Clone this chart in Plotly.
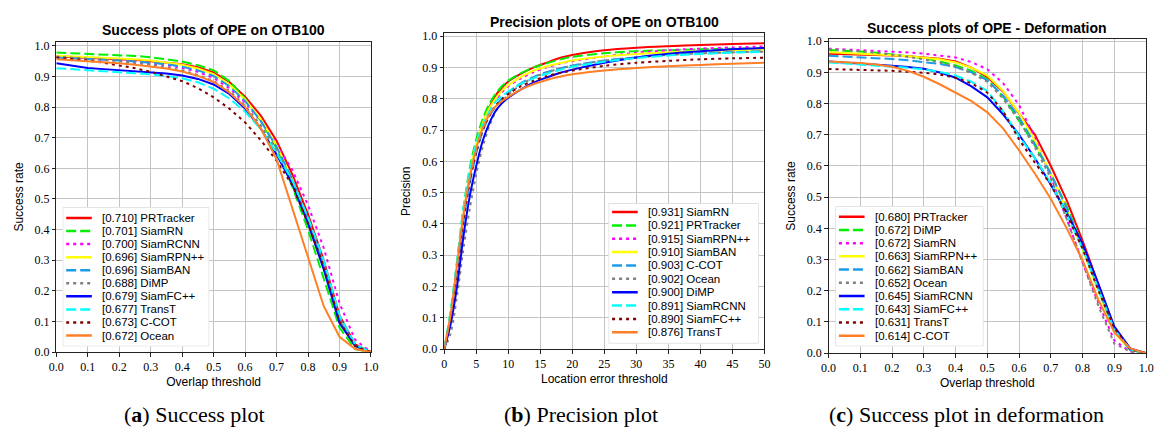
import plotly.graph_objects as go

W, H = 1164, 434

# ---------------- data ----------------
THRESH = [0.0, 0.05, 0.1, 0.15, 0.2, 0.25, 0.3, 0.35, 0.4, 0.45, 0.5,
          0.55, 0.6, 0.65, 0.7, 0.75, 0.8, 0.85, 0.9, 0.95, 1.0]
LOC = [0, 1, 2, 3, 4, 5, 6, 7, 8, 9, 10, 12, 14, 16, 18, 20, 25, 30, 35, 40, 45, 50]

# (a) Success plots of OPE on OTB100
A_NAMES = ["PRTracker", "SiamRN", "SiamRCNN", "SiamRPN++", "SiamBAN",
           "DiMP", "SiamFC++", "TransT", "C-COT", "Ocean"]
A_AUC = [0.710, 0.701, 0.700, 0.696, 0.696, 0.688, 0.679, 0.677, 0.673, 0.672]
A_PRTRACKER = [0.965, 0.963, 0.961, 0.959, 0.957, 0.954, 0.950, 0.946, 0.940, 0.930, 0.913,
               0.882, 0.834, 0.772, 0.690, 0.580, 0.450, 0.300, 0.120, 0.025, 0.0]
A_SIAMRN = [0.978, 0.976, 0.974, 0.972, 0.970, 0.967, 0.963, 0.957, 0.949, 0.937, 0.920,
            0.885, 0.828, 0.755, 0.665, 0.540, 0.400, 0.240, 0.080, 0.010, 0.0]
A_SIAMRCNN = [0.962, 0.960, 0.958, 0.955, 0.952, 0.948, 0.943, 0.937, 0.928, 0.915, 0.895,
              0.862, 0.815, 0.755, 0.680, 0.595, 0.480, 0.340, 0.160, 0.040, 0.0]
A_SIAMRPNPP = [0.968, 0.966, 0.964, 0.962, 0.959, 0.956, 0.952, 0.946, 0.938, 0.926, 0.908,
               0.874, 0.825, 0.760, 0.675, 0.565, 0.425, 0.280, 0.100, 0.020, 0.0]
A_SIAMBAN = [0.962, 0.960, 0.958, 0.955, 0.952, 0.949, 0.945, 0.940, 0.932, 0.920, 0.902,
             0.868, 0.820, 0.755, 0.670, 0.565, 0.430, 0.290, 0.110, 0.020, 0.0]
A_DIMP = [0.965, 0.962, 0.958, 0.954, 0.950, 0.945, 0.938, 0.930, 0.920, 0.905, 0.885,
          0.853, 0.805, 0.740, 0.660, 0.560, 0.430, 0.290, 0.110, 0.020, 0.0]
A_SIAMFCPP = [0.943, 0.935, 0.928, 0.924, 0.920, 0.917, 0.914, 0.910, 0.903, 0.892, 0.874,
              0.843, 0.795, 0.730, 0.645, 0.550, 0.420, 0.270, 0.095, 0.020, 0.0]
A_TRANST = [0.927, 0.923, 0.920, 0.917, 0.914, 0.911, 0.907, 0.902, 0.894, 0.881, 0.860,
            0.828, 0.785, 0.728, 0.650, 0.560, 0.440, 0.300, 0.120, 0.025, 0.0]
A_CCOT = [0.962, 0.958, 0.952, 0.945, 0.937, 0.927, 0.915, 0.900, 0.885, 0.862, 0.832,
          0.795, 0.750, 0.692, 0.625, 0.545, 0.420, 0.280, 0.100, 0.020, 0.0]
A_OCEAN = [0.956, 0.953, 0.950, 0.947, 0.943, 0.938, 0.933, 0.926, 0.916, 0.902, 0.882,
           0.848, 0.800, 0.730, 0.630, 0.470, 0.310, 0.150, 0.050, 0.010, 0.0]

# (b) Precision plots of OPE on OTB100
B_NAMES = ["SiamRN", "PRTracker", "SiamRPN++", "SiamBAN", "C-COT",
           "Ocean", "DiMP", "SiamRCNN", "SiamFC++", "TransT"]
B_PREC = [0.931, 0.921, 0.915, 0.910, 0.903, 0.902, 0.900, 0.891, 0.890, 0.876]
B_SIAMRN = [0, 0.10, 0.25, 0.42, 0.55, 0.65, 0.72, 0.77, 0.81, 0.835, 0.855,
            0.88, 0.90, 0.915, 0.93, 0.94, 0.955, 0.963, 0.968, 0.972, 0.975, 0.977]
B_PRTRACKER = [0, 0.12, 0.28, 0.45, 0.58, 0.67, 0.735, 0.782, 0.815, 0.84, 0.858,
               0.882, 0.90, 0.913, 0.925, 0.934, 0.945, 0.952, 0.955, 0.958, 0.96, 0.961]
B_SIAMRPNPP = [0, 0.10, 0.25, 0.41, 0.54, 0.64, 0.71, 0.76, 0.795, 0.82, 0.84,
               0.865, 0.885, 0.90, 0.912, 0.92, 0.935, 0.947, 0.955, 0.96, 0.964, 0.967]
B_SIAMBAN = [0, 0.10, 0.26, 0.43, 0.56, 0.655, 0.72, 0.768, 0.80, 0.825, 0.843,
             0.87, 0.89, 0.903, 0.913, 0.922, 0.935, 0.943, 0.948, 0.952, 0.955, 0.957]
B_CCOT = [0, 0.10, 0.25, 0.41, 0.53, 0.625, 0.695, 0.742, 0.775, 0.80, 0.82,
          0.85, 0.87, 0.885, 0.897, 0.906, 0.922, 0.932, 0.94, 0.945, 0.949, 0.952]
B_OCEAN = [0, 0.05, 0.17, 0.32, 0.45, 0.56, 0.645, 0.71, 0.757, 0.79, 0.813,
           0.845, 0.868, 0.884, 0.896, 0.905, 0.922, 0.932, 0.94, 0.945, 0.948, 0.95]
B_DIMP = [0, 0.08, 0.20, 0.36, 0.49, 0.585, 0.665, 0.72, 0.76, 0.785, 0.803,
          0.83, 0.852, 0.868, 0.882, 0.893, 0.915, 0.932, 0.944, 0.952, 0.958, 0.962]
B_SIAMRCNN = [0, 0.12, 0.28, 0.45, 0.57, 0.655, 0.715, 0.758, 0.79, 0.808, 0.823,
              0.848, 0.866, 0.88, 0.892, 0.902, 0.918, 0.93, 0.938, 0.943, 0.947, 0.95]
B_SIAMFCPP = [0, 0.10, 0.25, 0.41, 0.54, 0.63, 0.70, 0.745, 0.777, 0.798, 0.815,
              0.84, 0.858, 0.872, 0.882, 0.890, 0.905, 0.915, 0.921, 0.926, 0.929, 0.931]
B_TRANST = [0, 0.11, 0.27, 0.43, 0.55, 0.64, 0.705, 0.748, 0.775, 0.792, 0.806,
            0.83, 0.847, 0.86, 0.87, 0.878, 0.89, 0.898, 0.904, 0.908, 0.912, 0.915]

# (c) Success plots of OPE - Deformation
C_NAMES = ["PRTracker", "DiMP", "SiamRN", "SiamRPN++", "SiamBAN",
           "Ocean", "SiamRCNN", "SiamFC++", "TransT", "C-COT"]
C_AUC = [0.680, 0.672, 0.672, 0.663, 0.662, 0.652, 0.645, 0.643, 0.631, 0.614]
C_PRTRACKER = [0.960, 0.959, 0.958, 0.956, 0.954, 0.952, 0.949, 0.944, 0.935, 0.915, 0.885,
               0.838, 0.768, 0.700, 0.600, 0.490, 0.360, 0.220, 0.080, 0.012, 0.0]
C_DIMP = [0.972, 0.970, 0.967, 0.963, 0.958, 0.952, 0.945, 0.935, 0.922, 0.905, 0.878,
          0.822, 0.745, 0.665, 0.575, 0.470, 0.345, 0.210, 0.075, 0.010, 0.0]
C_SIAMRN = [0.976, 0.974, 0.972, 0.970, 0.967, 0.964, 0.960, 0.955, 0.948, 0.933, 0.910,
            0.865, 0.795, 0.690, 0.565, 0.430, 0.290, 0.160, 0.040, 0.005, 0.0]
C_SIAMRPNPP = [0.965, 0.963, 0.961, 0.958, 0.955, 0.952, 0.948, 0.942, 0.932, 0.915, 0.890,
               0.840, 0.770, 0.680, 0.575, 0.460, 0.330, 0.200, 0.065, 0.010, 0.0]
C_SIAMBAN = [0.953, 0.951, 0.949, 0.946, 0.943, 0.939, 0.934, 0.927, 0.917, 0.900, 0.875,
             0.825, 0.755, 0.670, 0.575, 0.465, 0.340, 0.205, 0.072, 0.010, 0.0]
C_OCEAN = [0.975, 0.972, 0.968, 0.963, 0.957, 0.950, 0.942, 0.932, 0.918, 0.898, 0.870,
           0.815, 0.745, 0.660, 0.560, 0.430, 0.290, 0.150, 0.030, 0.005, 0.0]
C_SIAMRCNN = [0.935, 0.932, 0.929, 0.925, 0.921, 0.917, 0.912, 0.900, 0.883, 0.855, 0.820,
              0.765, 0.700, 0.625, 0.540, 0.450, 0.350, 0.220, 0.085, 0.015, 0.0]
C_SIAMFCPP = [0.932, 0.929, 0.926, 0.923, 0.919, 0.915, 0.910, 0.902, 0.890, 0.870, 0.840,
              0.775, 0.695, 0.625, 0.545, 0.445, 0.335, 0.205, 0.075, 0.012, 0.0]
C_TRANST = [0.911, 0.910, 0.909, 0.907, 0.905, 0.902, 0.899, 0.893, 0.883, 0.865, 0.835,
            0.775, 0.685, 0.610, 0.540, 0.445, 0.335, 0.200, 0.080, 0.012, 0.0]
C_CCOT = [0.935, 0.933, 0.930, 0.925, 0.918, 0.905, 0.886, 0.862, 0.835, 0.808, 0.772,
          0.720, 0.650, 0.575, 0.494, 0.400, 0.297, 0.170, 0.066, 0.015, 0.0]

A_SERIES = [A_PRTRACKER, A_SIAMRN, A_SIAMRCNN, A_SIAMRPNPP, A_SIAMBAN,
            A_DIMP, A_SIAMFCPP, A_TRANST, A_CCOT, A_OCEAN]
B_SERIES = [B_SIAMRN, B_PRTRACKER, B_SIAMRPNPP, B_SIAMBAN, B_CCOT,
            B_OCEAN, B_DIMP, B_SIAMRCNN, B_SIAMFCPP, B_TRANST]
C_SERIES = [C_PRTRACKER, C_DIMP, C_SIAMRN, C_SIAMRPNPP, C_SIAMBAN,
            C_OCEAN, C_SIAMRCNN, C_SIAMFCPP, C_TRANST, C_CCOT]

X_TICKS_SUCCESS = [0.0, 0.1, 0.2, 0.3, 0.4, 0.5, 0.6, 0.7, 0.8, 0.9, 1.0]
X_TICKS_PREC = [0, 5, 10, 15, 20, 25, 30, 35, 40, 45, 50]
Y_TICKS = [0.0, 0.1, 0.2, 0.3, 0.4, 0.5, 0.6, 0.7, 0.8, 0.9, 1.0]

# ---------------- styles ----------------
COLORS = ["#ff0000", "#00f000", "#ff00ff", "#ffff00", "#1e9be8",
          "#808080", "#0000ff", "#00ffff", "#800000", "#ff7f27"]
DASHES = ["solid", "10px,4px", "3px,4px", "solid", "10px,4px",
          "3px,4px", "solid", "10px,4px", "3px,4px", "solid"]
LW = 2.0

TICK_FONT = dict(family="Liberation Serif", size=12, color="black")
LABEL_FONT = dict(family="Liberation Sans", size=12, color="black")
TITLE_FONT = dict(family="Liberation Sans", size=14, color="black")
LEG_FONT = dict(family="Liberation Sans", size=11.5, color="black")
CAP_FONT = dict(family="Liberation Serif", size=22, color="black")


def px(x):
    return x / W


def py(y):
    return 1 - y / H


# panel frames in pixels: left, right, top, bottom, ymax
PANELS = [
    dict(l=49, r=368, t=37.7, b=357, ymax=1.0137, ystand=8),
    dict(l=442.3, r=767, t=29, b=354, ymax=1.0093, ystand=9),
    dict(l=832, r=1154, t=35, b=358, ymax=1.007, ystand=8),
]
LEGBOX = [
    dict(l=55.5, r=204, t=208, b=351, first=11.0, step=13.44),
    dict(l=609, r=761, t=204, b=348, first=8.9, step=13.75),
    dict(l=839, r=989, t=207, b=351, first=10.7, step=13.6),
]

fig = go.Figure()
layout = dict(width=W, height=H, margin=dict(l=0, r=0, t=0, b=0),
              paper_bgcolor="white", plot_bgcolor="white", showlegend=False,
              annotations=[], shapes=[])

panel_specs = [
    (THRESH, A_SERIES, A_NAMES, A_AUC, "linear"),
    (LOC, B_SERIES, B_NAMES, B_PREC, "spline"),
    (THRESH, C_SERIES, C_NAMES, C_AUC, "linear"),
]
titles = ["Success plots of OPE on OTB100", "Precision plots of OPE on OTB100",
          "Success plots of OPE - Deformation"]
title_pos = [(208, 26), (604.5, 17), (992.5, 23.3)]
xtitles = ["Overlap threshold", "Location error threshold", "Overlap threshold"]
ytitles = ["Success rate", "Precision", "Success rate"]
captions = ["(<b>a</b>) Success plot", "(<b>b</b>) Precision plot",
            "(<b>c</b>) Success plot in deformation"]
cap_pos = [(189, 421.5), (580.5, 421.5), (972, 421.5)]

for k in range(3):
    xs, series, names, scores, shape = panel_specs[k]
    P = PANELS[k]
    xa = "x" if k == 0 else f"x{k+1}"
    ya = "y" if k == 0 else f"y{k+1}"
    for i, vals in enumerate(series):
        fig.add_trace(go.Scatter(
            x=xs, y=vals, mode="lines", xaxis=xa, yaxis=ya,
            line=dict(color=COLORS[i], width=LW, dash=DASHES[i], shape=shape,
                      smoothing=0.8 if shape == "spline" else None),
            name=f"[{scores[i]:.3f}] {names[i]}", hoverinfo="skip"))
    axkey = "xaxis" if k == 0 else f"xaxis{k+1}"
    aykey = "yaxis" if k == 0 else f"yaxis{k+1}"
    if k == 1:
        xr = [0, 50]
        xt = X_TICKS_PREC
        xtext = [str(v) for v in xt]
    else:
        xr = [0, 1]
        xt = X_TICKS_SUCCESS
        xtext = [f"{v:.1f}" for v in xt]
    common = dict(showgrid=True, gridcolor="#c4c4c4", gridwidth=1,
                  showline=True, linecolor="#222222", linewidth=1, mirror=True,
                  ticks="outside", ticklen=3.5, tickcolor="#222222", tickwidth=1,
                  tickfont=TICK_FONT, zeroline=False, fixedrange=True)
    layout[axkey] = dict(common, domain=[px(P["l"]), px(P["r"])], range=xr,
                         tickvals=xt, ticktext=xtext, anchor=ya,
                         title=dict(text=xtitles[k], font=LABEL_FONT, standoff=4))
    layout[aykey] = dict(common, domain=[py(P["b"]), py(P["t"])], range=[0, P["ymax"]],
                         tickvals=Y_TICKS, ticktext=[f"{v:.1f}" for v in Y_TICKS], anchor=xa,
                         title=dict(text=ytitles[k], font=LABEL_FONT, standoff=P["ystand"]))

    tx, ty = title_pos[k]
    layout["annotations"].append(dict(text=f"<b>{titles[k]}</b>", x=px(tx), y=py(ty),
                                      xref="paper", yref="paper", showarrow=False,
                                      xanchor="center", yanchor="middle", font=TITLE_FONT))
    cx, cy = cap_pos[k]
    layout["annotations"].append(dict(text=captions[k], x=px(cx), y=py(cy),
                                      xref="paper", yref="paper", showarrow=False,
                                      xanchor="center", yanchor="middle", font=CAP_FONT))

    # legend built as its own small subplot
    L = LEGBOX[k]
    lx = f"x{k+4}"
    ly = f"y{k+4}"
    bw = L["r"] - L["l"]
    bh = L["b"] - L["t"]
    layout[f"xaxis{k+4}"] = dict(domain=[px(L["l"]), px(L["r"])], range=[0, bw],
                                 visible=False, fixedrange=True, anchor=ly)
    layout[f"yaxis{k+4}"] = dict(domain=[py(L["b"]), py(L["t"])], range=[bh, 0],
                                 visible=False, fixedrange=True, anchor=lx)
    layout["shapes"].append(dict(type="rect", xref=lx, yref=ly, x0=0, x1=bw, y0=0, y1=bh,
                                 fillcolor="rgba(255,255,255,0.9)",
                                 line=dict(color="#cfcfcf", width=1), layer="below"))
    for i in range(len(series)):
        row = L["first"] + i * L["step"]
        fig.add_trace(go.Scatter(
            x=[3.5, 29.5], y=[row, row], mode="lines", xaxis=lx, yaxis=ly,
            line=dict(color=COLORS[i], width=LW + 0.5, dash=DASHES[i]),
            hoverinfo="skip", showlegend=False))
        layout["annotations"].append(dict(
            text=f"[{scores[i]:.3f}] {names[i]}", x=38, y=row, xref=lx, yref=ly,
            showarrow=False, xanchor="left", yanchor="middle", font=LEG_FONT))

fig.update_layout(**layout)
fig.write_html("out.html",
               post_script="document.body.style.margin='0';document.body.style.overflow='hidden';")
